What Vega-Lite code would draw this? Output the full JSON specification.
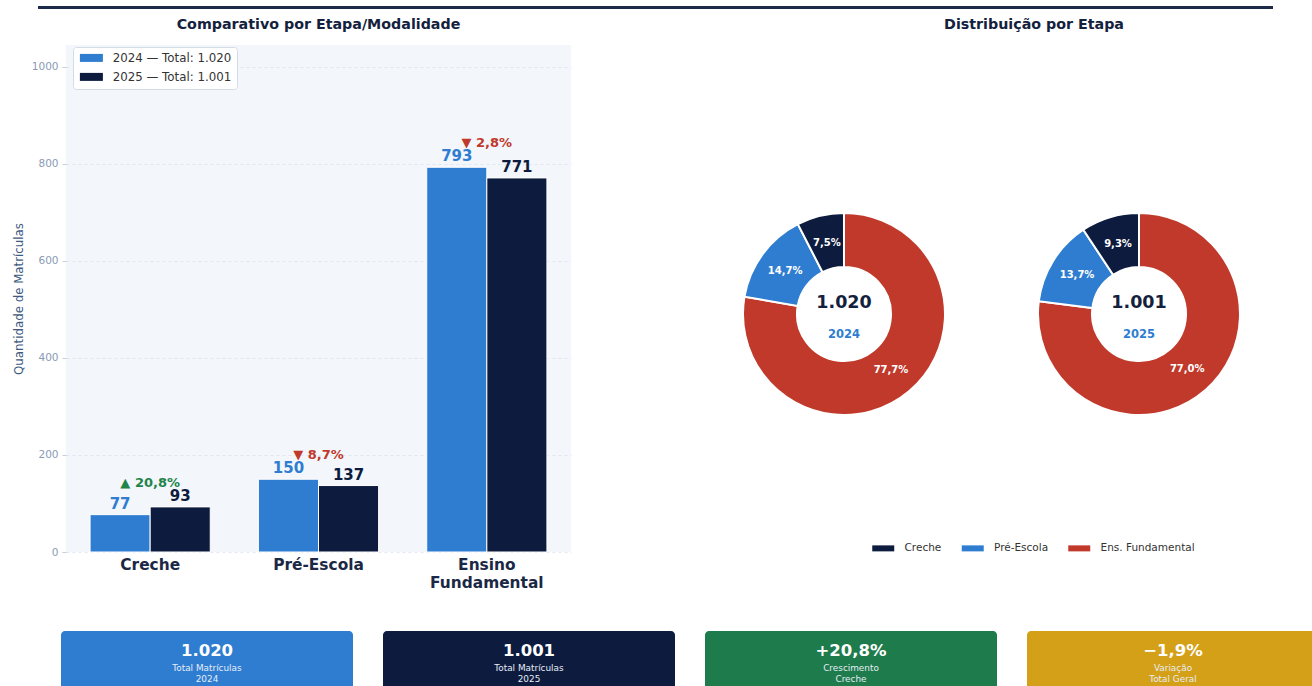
{
  "$schema": "https://vega.github.io/schema/vega-lite/v6.json",
  "background": "white",
  "padding": {"left": 0, "top": 0, "right": 0, "bottom": 0},
  "config": {
    "font": "DejaVu Sans",
    "view": {"stroke": null},
    "concat": {"spacing": 0}
  },
  "datasets": {
    "barras": [
      {"etapa": "Creche", "ano": "2024", "valor": 77},
      {"etapa": "Creche", "ano": "2025", "valor": 93},
      {"etapa": "Pré-Escola", "ano": "2024", "valor": 150},
      {"etapa": "Pré-Escola", "ano": "2025", "valor": 137},
      {"etapa": "Ensino Fundamental", "ano": "2024", "valor": 793},
      {"etapa": "Ensino Fundamental", "ano": "2025", "valor": 771}
    ],
    "variacao": [
      {"etapa": "Creche", "maior": 93, "rotulo": "▲ 20,8%", "tipo": "alta"},
      {"etapa": "Pré-Escola", "maior": 150, "rotulo": "▼ 8,7%", "tipo": "queda"},
      {"etapa": "Ensino Fundamental", "maior": 793, "rotulo": "▼ 2,8%", "tipo": "queda"}
    ],
    "pizza": [
      {"ano": "2024", "etapa": "Ens. Fundamental", "valor": 793, "pct": "77,7%", "ord": 0},
      {"ano": "2024", "etapa": "Pré-Escola", "valor": 150, "pct": "14,7%", "ord": 1},
      {"ano": "2024", "etapa": "Creche", "valor": 77, "pct": "7,5%", "ord": 2},
      {"ano": "2025", "etapa": "Ens. Fundamental", "valor": 771, "pct": "77,0%", "ord": 0},
      {"ano": "2025", "etapa": "Pré-Escola", "valor": 137, "pct": "13,7%", "ord": 1},
      {"ano": "2025", "etapa": "Creche", "valor": 93, "pct": "9,3%", "ord": 2}
    ],
    "totais": [
      {"ano": "2024", "total": "1.020"},
      {"ano": "2025", "total": "1.001"}
    ],
    "cards": [
      {"id": 1, "valor": "1.020", "rotulo": "Total Matrículas\n2024"},
      {"id": 2, "valor": "1.001", "rotulo": "Total Matrículas\n2025"},
      {"id": 3, "valor": "+20,8%", "rotulo": "Crescimento\nCreche"},
      {"id": 4, "valor": "−1,9%", "rotulo": "Variação\nTotal Geral"}
    ]
  },
  "resolve": {"scale": {"color": "independent", "fill": "independent"}, "legend": {"color": "independent", "fill": "independent"}},
  "spacing": 8,
  "vconcat": [
    {
      "spacing": 0,
      "hconcat": [
        {"width": 38, "height": 1, "mark": {"type": "text"}, "encoding": {"text": {"value": ""}}},
        {
          "spacing": 3,
          "vconcat": [
            {
              "width": 1235, "height": 3,
              "mark": {"type": "text", "clip": true, "fontSize": 12, "color": "#7FB2EA", "baseline": "alphabetic", "align": "center", "dy": 2},
              "encoding": {
                "x": {"value": {"expr": "width/2"}},
                "text": {"value": "Município de Bonfim do Piauí (PI) — Exercício 2024 e 2025"}
              }
            },
            {
              "width": 1235, "height": 3,
              "view": {"fill": "#1C2B4A", "stroke": null},
              "mark": {"type": "text"},
              "encoding": {"text": {"value": ""}}
            }
          ]
        }
      ]
    },
    {
      "spacing": 40,
      "resolve": {"scale": {"color": "independent", "fill": "independent"}, "legend": {"color": "independent", "fill": "independent"}},
      "vconcat": [
        {
          "spacing": 0,
          "resolve": {"scale": {"color": "independent", "fill": "independent"}, "legend": {"color": "independent", "fill": "independent"}},
          "hconcat": [
            {"width": 12.5, "height": 1, "mark": {"type": "text"}, "encoding": {"text": {"value": ""}}},
            {
              "spacing": 167,
              "resolve": {"scale": {"color": "independent", "fill": "independent"}, "legend": {"color": "independent", "fill": "independent"}},
              "hconcat": [
                {
                  "width": 505, "height": 507,
                  "title": {"text": "Comparativo por Etapa/Modalidade", "fontSize": 14.25, "fontWeight": "bold", "color": "#14213D", "offset": 13, "anchor": "middle"},
                  "view": {"fill": "#F3F6FB", "stroke": null},
                  "layer": [
                    {
                      "data": {"name": "barras"},
                      "mark": {"type": "bar", "stroke": "white", "strokeWidth": 1},
                      "encoding": {
                        "x": {
                          "field": "etapa", "type": "nominal",
                          "sort": ["Creche", "Pré-Escola", "Ensino Fundamental"],
                          "scale": {"paddingInner": 0.286, "paddingOuter": 0.143},
                          "axis": {
                            "title": null, "domain": false, "ticks": false, "labelAngle": 0,
                            "labelFontSize": 15.4, "labelFontWeight": "bold", "labelColor": "#1B2845",
                            "labelPadding": 5, "labelLineHeight": 18,
                            "labelExpr": "datum.value == 'Ensino Fundamental' ? ['Ensino', 'Fundamental'] : datum.value"
                          }
                        },
                        "xOffset": {"field": "ano", "type": "nominal", "sort": ["2024", "2025"]},
                        "y": {
                          "field": "valor", "type": "quantitative",
                          "scale": {"domain": [0, 1045], "nice": false},
                          "axis": {
                            "values": [0, 200, 400, 600, 800, 1000], "format": "d",
                            "title": "Quantidade de Matrículas", "titleColor": "#3D5A80", "titleFontSize": 11.8,
                            "titleFontWeight": "normal", "titlePadding": 7,
                            "labelColor": "#8A9BB5", "labelFontSize": 10.5, "labelPadding": 4,
                            "tickColor": "#C5CEDB", "tickSize": 4, "domain": false,
                            "grid": true, "gridColor": "#DCE3ED", "gridDash": [3, 3], "gridWidth": 0.8
                          }
                        },
                        "fill": {
                          "field": "ano", "type": "nominal",
                          "scale": {"domain": ["2024", "2025"], "range": ["#2E7DD1", "#0D1B3E"]},
                          "legend": {
                            "title": null, "orient": "none", "legendX": 7, "legendY": 2,
                            "labelExpr": "datum.label == '2024' ? '2024 — Total: 1.020' : '2025 — Total: 1.001'",
                            "symbolType": "M-1,-1H4.75V1H-1Z", "symbolSize": 64, "symbolStrokeWidth": 0,
                            "labelFontSize": 11.8, "labelColor": "#333333", "labelOffset": 23,
                            "fillColor": "white", "strokeColor": "#D6DCE5", "padding": 5, "cornerRadius": 3, "rowPadding": 6
                          }
                        }
                      }
                    },
                    {
                      "data": {"name": "barras"},
                      "mark": {"type": "text", "fontSize": 15, "fontWeight": "bold", "baseline": "bottom", "dy": -3},
                      "encoding": {
                        "x": {"field": "etapa", "type": "nominal", "sort": ["Creche", "Pré-Escola", "Ensino Fundamental"]},
                        "xOffset": {"field": "ano", "type": "nominal", "sort": ["2024", "2025"]},
                        "y": {"field": "valor", "type": "quantitative"},
                        "text": {"field": "valor", "type": "quantitative"},
                        "color": {"condition": {"test": "datum.ano == '2024'", "value": "#2E7DD1"}, "value": "#0D1B3E"}
                      }
                    },
                    {
                      "data": {"name": "variacao"},
                      "mark": {"type": "text", "fontSize": 13, "fontWeight": "bold", "baseline": "middle", "dy": -24},
                      "encoding": {
                        "x": {"field": "etapa", "type": "nominal", "sort": ["Creche", "Pré-Escola", "Ensino Fundamental"]},
                        "y": {"field": "maior", "type": "quantitative"},
                        "text": {"field": "rotulo", "type": "nominal"},
                        "color": {"condition": {"test": "datum.tipo == 'alta'", "value": "#1E8449"}, "value": "#C0392B"}
                      }
                    }
                  ]
                },
                {
                  "width": 582, "height": 538,
                  "title": {"text": "Distribuição por Etapa", "fontSize": 14.25, "fontWeight": "bold", "color": "#14213D", "offset": 13, "anchor": "middle"},
                  "layer": [
                    {
                      "data": {"name": "pizza"},
                      "transform": [{"filter": "datum.ano == '2024'"}],
                      "mark": {"type": "arc", "radius": 101, "innerRadius": 47, "stroke": "white", "strokeWidth": 2},
                      "encoding": {
                        "x": {"field": "ano", "type": "nominal", "scale": {"type": "point", "domain": ["2024", "2025"], "padding": 0.48644, "align": 0.3519}, "axis": null},
                        "theta": {"field": "valor", "type": "quantitative", "stack": "normalize"},
                        "order": {"field": "ord", "type": "quantitative"},
                        "color": {
                          "field": "etapa", "type": "nominal",
                          "scale": {"domain": ["Creche", "Pré-Escola", "Ens. Fundamental"], "range": ["#0D1B3E", "#2E7DD1", "#C0392B"]},
                          "legend": {
                            "title": null, "orient": "none", "legendX": 127, "legendY": 498, "direction": "horizontal",
                            "symbolType": "M-1,-1H6.33V1H-1Z", "symbolSize": 36, "symbolStrokeWidth": 0,
                            "labelFontSize": 10.5, "labelColor": "#333333", "labelOffset": 24, "columnPadding": 17.5
                          }
                        }
                      }
                    },
                    {
                      "data": {"name": "pizza"},
                      "transform": [{"filter": "datum.ano == '2025'"}],
                      "mark": {"type": "arc", "radius": 101, "innerRadius": 47, "stroke": "white", "strokeWidth": 2},
                      "encoding": {
                        "x": {"field": "ano", "type": "nominal", "axis": null},
                        "theta": {"field": "valor", "type": "quantitative", "stack": "normalize"},
                        "order": {"field": "ord", "type": "quantitative"},
                        "color": {"field": "etapa", "type": "nominal"}
                      }
                    },
                    {
                      "data": {"name": "pizza"},
                      "transform": [{"filter": "datum.ano == '2024'"}],
                      "mark": {"type": "text", "radius": 73, "fontSize": 10, "fontWeight": "bold", "color": "white"},
                      "encoding": {
                        "x": {"field": "ano", "type": "nominal", "axis": null},
                        "theta": {"field": "valor", "type": "quantitative", "stack": "normalize"},
                        "order": {"field": "ord", "type": "quantitative"},
                        "detail": {"field": "etapa", "type": "nominal"},
                        "text": {"field": "pct", "type": "nominal"}
                      }
                    },
                    {
                      "data": {"name": "pizza"},
                      "transform": [{"filter": "datum.ano == '2025'"}],
                      "mark": {"type": "text", "radius": 73, "fontSize": 10, "fontWeight": "bold", "color": "white"},
                      "encoding": {
                        "x": {"field": "ano", "type": "nominal", "axis": null},
                        "theta": {"field": "valor", "type": "quantitative", "stack": "normalize"},
                        "order": {"field": "ord", "type": "quantitative"},
                        "detail": {"field": "etapa", "type": "nominal"},
                        "text": {"field": "pct", "type": "nominal"}
                      }
                    },
                    {
                      "data": {"name": "totais"},
                      "mark": {"type": "text", "fontSize": 17.5, "fontWeight": "bold", "color": "#14213D", "baseline": "middle", "dy": -11},
                      "encoding": {
                        "x": {"field": "ano", "type": "nominal", "axis": null},
                        "text": {"field": "total", "type": "nominal"}
                      }
                    },
                    {
                      "data": {"name": "totais"},
                      "mark": {"type": "text", "fontSize": 11.5, "fontWeight": "bold", "color": "#2E7DD1", "baseline": "middle", "dy": 21},
                      "encoding": {
                        "x": {"field": "ano", "type": "nominal", "axis": null},
                        "text": {"field": "ano", "type": "nominal"}
                      }
                    }
                  ]
                }
              ]
            }
          ]
        },
        {
          "spacing": 0,
          "hconcat": [
            {"width": 61, "height": 1, "mark": {"type": "text"}, "encoding": {"text": {"value": ""}}},
            {
              "width": 1258, "height": 62,
              "data": {"name": "cards"},
              "layer": [
                {
                  "mark": {"type": "bar", "cornerRadius": 4},
                  "encoding": {
                    "x": {"field": "id", "type": "ordinal", "scale": {"paddingInner": 0.09317, "paddingOuter": 0}, "axis": null},
                    "color": {
                      "condition": [
                        {"test": "datum.id == 1", "value": "#2E7DD1"},
                        {"test": "datum.id == 2", "value": "#0D1B3E"},
                        {"test": "datum.id == 3", "value": "#1E7B4B"}
                      ],
                      "value": "#D4A017"
                    }
                  }
                },
                {
                  "mark": {"type": "text", "fontSize": 16.5, "fontWeight": "bold", "color": "white", "baseline": "middle", "dy": -11.5},
                  "encoding": {
                    "x": {"field": "id", "type": "ordinal", "axis": null},
                    "text": {"field": "valor", "type": "nominal"}
                  }
                },
                {
                  "mark": {"type": "text", "fontSize": 8.9, "color": "#E6EDF7", "baseline": "middle", "lineBreak": "\n", "lineHeight": 10.5, "dy": 6},
                  "encoding": {
                    "x": {"field": "id", "type": "ordinal", "axis": null},
                    "text": {"field": "rotulo", "type": "nominal"}
                  }
                }
              ]
            }
          ]
        }
      ]
    }
  ]
}
